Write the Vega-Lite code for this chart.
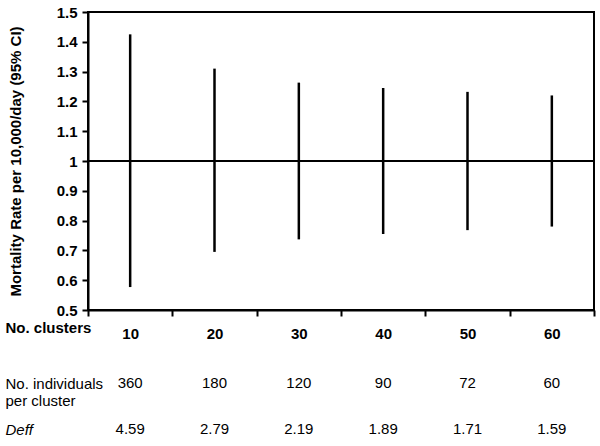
{
  "$schema": "https://vega.github.io/schema/vega-lite/v6.json",
  "padding": {"left": 4, "top": 4, "right": 5, "bottom": 0},
  "background": "white",
  "config": {
    "font": "Liberation Sans",
    "concat": {"spacing": 11},
    "axis": {"labelColor": "black", "titleColor": "black", "domainColor": "black", "tickColor": "black", "grid": false},
    "axisY": {"labelOverlap": false, "labelSeparation": -30}
  },
  "vconcat": [
    {
      "width": 506,
      "height": 298,
      "view": {"stroke": "black", "strokeWidth": 2},
      "data": {"values": [
        {"clusters": "10", "lower": 0.577, "upper": 1.425},
        {"clusters": "20", "lower": 0.695, "upper": 1.31},
        {"clusters": "30", "lower": 0.737, "upper": 1.263},
        {"clusters": "40", "lower": 0.755, "upper": 1.245},
        {"clusters": "50", "lower": 0.768, "upper": 1.232},
        {"clusters": "60", "lower": 0.78, "upper": 1.22}
      ]},
      "layer": [
        {
          "mark": {"type": "rule", "color": "black", "strokeWidth": 2.5},
          "encoding": {
            "x": {
              "field": "clusters", "type": "ordinal", "sort": null,
              "scale": {"paddingInner": 0, "paddingOuter": 0},
              "axis": {
                "tickBand": "extent", "tickSize": 6, "tickWidth": 2, "domainWidth": 2,
                "labelAngle": 0, "labelFontSize": 15, "labelFontWeight": "bold", "labelPadding": 10,
                "title": "No. clusters", "titleFontSize": 15, "titleFontWeight": "bold",
                "titleAnchor": "start", "titleAlign": "left", "titleBaseline": "top",
                "titleX": -83, "titleY": 10
              }
            },
            "y": {
              "field": "lower", "type": "quantitative",
              "scale": {"domain": [0.5, 1.5], "nice": false, "zero": false},
              "axis": {
                "tickCount": 10,
                "format": "~g", "tickSize": 6, "tickWidth": 2, "domainWidth": 2,
                "labelOverlap": false, "labelSeparation": -30, "labelFlush": false,
                "labelFontSize": 15, "labelFontWeight": "bold", "labelPadding": 5,
                "title": "Mortality Rate per 10,000/day (95% CI)", "titleFontSize": 15,
                "titleFontWeight": "bold", "titlePadding": 33
              }
            },
            "y2": {"field": "upper"}
          }
        },
        {
          "mark": {"type": "rule", "color": "black", "strokeWidth": 2},
          "encoding": {"y": {"datum": 1}}
        }
      ]
    },
    {
      "width": 506,
      "height": 92,
      "view": {"stroke": null},
      "data": {"values": [
        {"row": "No. individuals per cluster", "clusters": "10", "value": "360"},
        {"row": "No. individuals per cluster", "clusters": "20", "value": "180"},
        {"row": "No. individuals per cluster", "clusters": "30", "value": "120"},
        {"row": "No. individuals per cluster", "clusters": "40", "value": "90"},
        {"row": "No. individuals per cluster", "clusters": "50", "value": "72"},
        {"row": "No. individuals per cluster", "clusters": "60", "value": "60"},
        {"row": "Deff", "clusters": "10", "value": "4.59"},
        {"row": "Deff", "clusters": "20", "value": "2.79"},
        {"row": "Deff", "clusters": "30", "value": "2.19"},
        {"row": "Deff", "clusters": "40", "value": "1.89"},
        {"row": "Deff", "clusters": "50", "value": "1.71"},
        {"row": "Deff", "clusters": "60", "value": "1.59"}
      ]},
      "mark": {"type": "text", "fontSize": 15, "color": "black", "baseline": "top"},
      "encoding": {
        "x": {"field": "clusters", "type": "ordinal", "sort": null, "scale": {"paddingInner": 0, "paddingOuter": 0}, "axis": null},
        "y": {
          "field": "row", "type": "ordinal", "sort": null,
          "scale": {"paddingInner": 0, "paddingOuter": 0},
          "axis": {
            "title": null, "domain": false, "ticks": false, "tickSize": 0,
            "labelAlign": "left", "labelBaseline": "top", "labelPadding": 83,
            "labelFontSize": 15, "labelLineHeight": 17,
            "labelFontStyle": {"condition": {"test": "datum.value == 'Deff'", "value": "italic"}, "value": "normal"},
            "labelExpr": "datum.value == 'No. individuals per cluster' ? ['No. individuals', 'per cluster'] : datum.value"
          }
        },
        "text": {"field": "value"}
      }
    }
  ]
}
